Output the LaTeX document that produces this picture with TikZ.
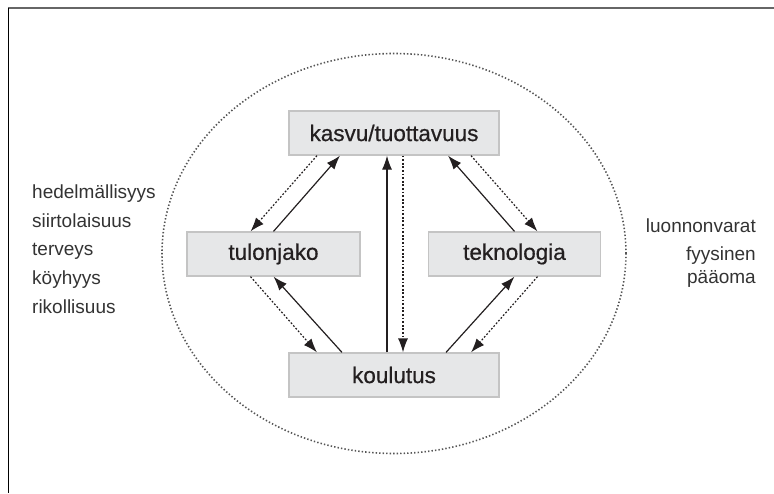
\documentclass[tikz,border=0pt]{standalone}
\usepackage{fontspec}
\setmainfont{Liberation Sans}
\newfontfamily\boxfont[FakeBold=0.6]{Liberation Sans}
\usetikzlibrary{arrows.meta,shapes.geometric}
\definecolor{boxfill}{HTML}{E6E7E8}
\definecolor{boxline}{HTML}{C4C4C4}
\definecolor{ink}{HTML}{231F20}
\definecolor{sidetext}{HTML}{333333}
\definecolor{ringcol}{HTML}{555555}
\tikzset{
  box/.style={draw=boxline, line width=1.2pt, fill=boxfill, minimum height=44pt,
    inner sep=0pt, text=ink, font=\boxfont\fontsize{22.5}{26}\selectfont},
  side/.style={text=sidetext, font=\fontsize{19}{22}\selectfont, inner sep=0pt},
  solidarr/.style={draw=ink, line width=1.2pt, -{Latex[length=14pt,width=10pt]}},
  dotarr/.style={draw=ink, line width=1.2pt, dash pattern=on 1.8pt off 1.8pt,
    -{Latex[length=14pt,width=10pt]}},
}
\begin{document}
\begin{tikzpicture}[x=1pt,y=-1pt]
\useasboundingbox (0,0) rectangle (774,493);
\draw[line width=1.4pt, color=black!60] (8,8) -- (774,8);
\draw[line width=1pt, black] (8,8) -- (8,493);
\node[ellipse, draw=ringcol, line width=1.6pt, dash pattern=on 1.4pt off 2.1pt,
  minimum width=464pt, minimum height=400pt, inner sep=0pt] (ring) at (394,253.5) {};
\node[box, minimum width=210pt] (kasvu) at (394,133) {kasvu/tuottavuus};
\node[box, minimum width=210pt] (koulutus) at (394,375) {koulutus};
\node[box, minimum width=173pt] (tulonjako) at (273.5,254) {tulonjako};
\node[box, minimum width=172pt] (teknologia) at (514.5,254) {teknologia};
% vertical
\draw[solidarr] ([xshift=-7pt]koulutus.north) -- ([xshift=-7pt]kasvu.south);
\draw[dotarr] ([xshift=9pt]kasvu.south) -- ([xshift=9pt]koulutus.north);
% upper left
\draw[solidarr] ([xshift=0pt]tulonjako.north) -- ([xshift=-54pt]kasvu.south);
\draw[dotarr] ([xshift=-77pt]kasvu.south) -- ([xshift=-23pt]tulonjako.north);
% lower left
\draw[dotarr] ([xshift=-23pt]tulonjako.south) -- ([xshift=-77pt]koulutus.north);
\draw[solidarr] ([xshift=-52pt]koulutus.north) -- ([xshift=0pt]tulonjako.south);
% upper right
\draw[solidarr] ([xshift=0pt]teknologia.north) -- ([xshift=54pt]kasvu.south);
\draw[dotarr] ([xshift=77pt]kasvu.south) -- ([xshift=23pt]teknologia.north);
% lower right
\draw[solidarr] ([xshift=52pt]koulutus.north) -- ([xshift=0pt]teknologia.south);
\draw[dotarr] ([xshift=23pt]teknologia.south) -- ([xshift=77pt]koulutus.north);
% side texts
\node[side, anchor=base west] (l1) at (32,198) {hedelmällisyys};
\node[side, anchor=base west] (l2) at (32,227) {siirtolaisuus};
\node[side, anchor=base west] (l3) at (32,255) {terveys};
\node[side, anchor=base west] (l4) at (32,284) {köyhyys};
\node[side, anchor=base west] (l5) at (32,313) {rikollisuus};
\node[side, anchor=base east] (r1) at (756,232) {luonnonvarat};
\node[side, anchor=base east] (r2) at (756,260) {fyysinen};
\node[side, anchor=base east] (r3) at (756,283) {pääoma};
\end{tikzpicture}
\end{document}
